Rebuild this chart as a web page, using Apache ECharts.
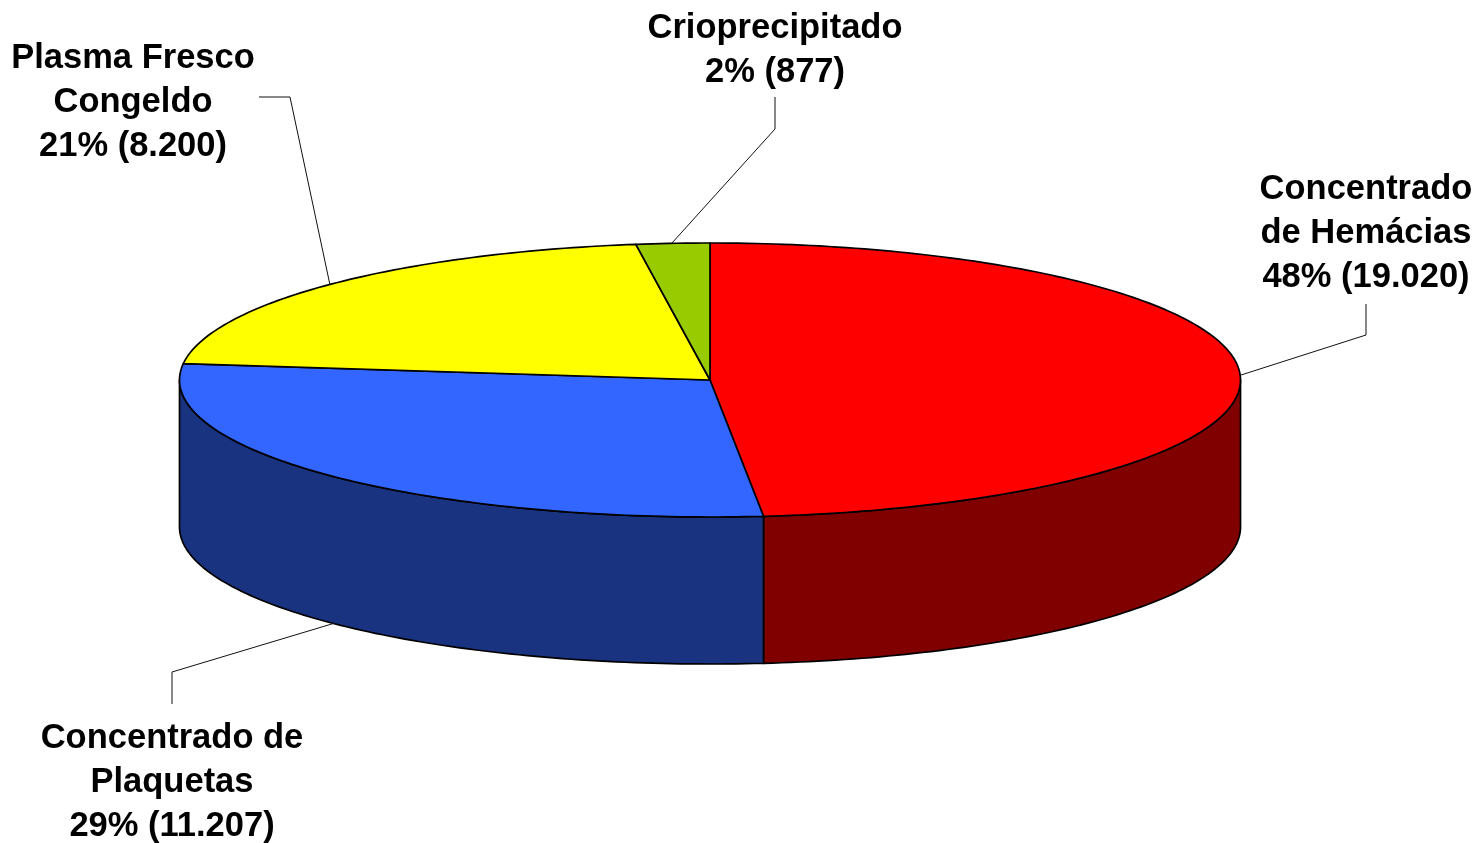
<!DOCTYPE html>
<html>
<head>
<meta charset="utf-8">
<title>Hemocomponentes</title>
<script src="https://cdn.jsdelivr.net/npm/echarts@6/dist/echarts.min.js"></script>
<style>
html, body { margin: 0; padding: 0; background: #fff; }
#chart { width: 1477px; height: 843px; }
</style>
</head>
<body>
<div id="chart"></div>
<script>
// data, clockwise from 12 o'clock
var categories = ['Concentrado\nde Hemácias', 'Concentrado de\nPlaquetas', 'Plasma Fresco\nCongeldo', 'Crioprecipitado'];
var values = [19020, 11207, 8200, 877];
var percentLabels = ['48%', '29%', '21%', '2%'];
var valueLabels = ['19.020', '11.207', '8.200', '877'];

var topColors = ['#ff0000', '#3366ff', '#ffff00', '#99cc00'];
var sideColors = ['#800000', '#193380', '#808000', '#4d6600'];

// disc geometry
var cx = 710, cy = 380, rx = 530.5, ry = 137, depth = 147;

// label centres and leader lines
var labelPos = [[1366, 233], [172, 782], [133, 102], [775, 50]];
var leaders = [
    [[1241, 375], [1366, 335], [1366, 304]],
    [[335, 623], [172, 672], [172, 704]],
    [[259, 97], [290, 97], [330, 285]],
    [[672, 243], [775, 129], [775, 97]]
];

var total = values.reduce(function (a, b) { return a + b; }, 0);

function rimPoint(deg, dy) {
    var t = deg * Math.PI / 180;
    return [cx + rx * Math.sin(t), cy - ry * Math.cos(t) + (dy || 0)];
}

function arcPoints(from, to, dy) {
    var pts = [];
    var n = Math.max(2, Math.ceil(Math.abs(to - from)));
    for (var i = 0; i <= n; i++) {
        pts.push(rimPoint(from + (to - from) * i / n, dy));
    }
    return pts;
}

function renderSlice(params, api) {
    var idx = params.dataIndex;
    var start = 0;
    for (var i = 0; i < idx; i++) start += values[i] / total * 360;
    var end = start + api.value(0) / total * 360;
    var children = [];
    var edge = { stroke: '#000', lineWidth: 1.7, lineJoin: 'round' };

    // only the front half of the wall can be seen
    var sideFrom = Math.max(start, 90), sideTo = Math.min(end, 270);
    if (sideTo > sideFrom) {
        var wall = arcPoints(sideFrom, sideTo, 0).concat(arcPoints(sideTo, sideFrom, depth));
        children.push({
            type: 'polygon',
            shape: { points: wall },
            style: Object.assign({ fill: sideColors[idx] }, edge)
        });
    }

    var face = [[cx, cy]].concat(arcPoints(start, end, 0));
    children.push({
        type: 'polygon',
        shape: { points: face },
        style: Object.assign({ fill: topColors[idx] }, edge)
    });

    children.push({
        type: 'polyline',
        shape: { points: leaders[idx] },
        style: { stroke: '#111', lineWidth: 1, fill: null }
    });

    children.push({
        type: 'text',
        x: labelPos[idx][0],
        y: labelPos[idx][1],
        style: {
            text: categories[idx] + '\n' + percentLabels[idx] + ' (' + valueLabels[idx] + ')',
            font: 'bold 34.5px "Liberation Sans", Arial, sans-serif',
            lineHeight: 44,
            fill: '#000',
            align: 'center',
            verticalAlign: 'middle'
        }
    });

    return { type: 'group', children: children };
}

var chart = echarts.init(document.getElementById('chart'));
chart.setOption({
    animation: false,
    backgroundColor: '#fff',
    series: [{
        type: 'custom',
        coordinateSystem: 'none',
        silent: true,
        renderItem: renderSlice,
        data: values.map(function (v) { return [v]; })
    }]
});
</script>
</body>
</html>
